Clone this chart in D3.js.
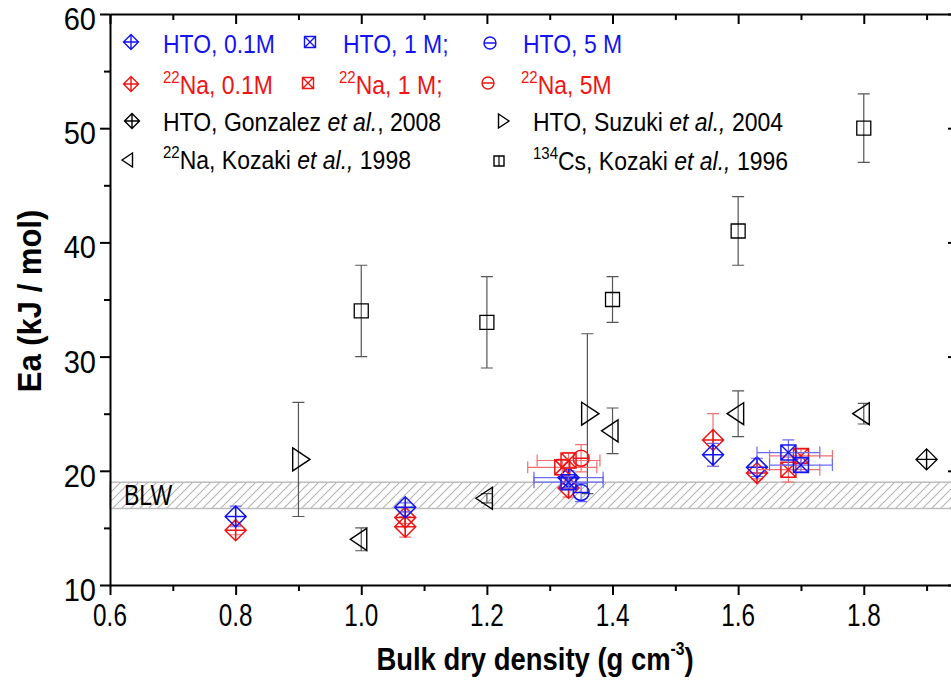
<!DOCTYPE html>
<html>
<head>
<meta charset="utf-8">
<script src="https://cdn.jsdelivr.net/npm/d3@7/dist/d3.min.js"></script>
<style>
  html, body { margin: 0; padding: 0; background: #fff; overflow: hidden; }
  svg { display: block; }
  text { font-family: "Liberation Sans", Arial, sans-serif; }
</style>
</head>
<body>
<svg id="chart" width="951" height="682"></svg>
<script>
// ---- data: [x (g cm-3), Ea (kJ/mol), yErr, xErr] ----
const hto01   = [[0.80,16.0,0.9,0],[1.07,16.8,0.4,0],[1.33,19.4,0.6,0.055],[1.56,21.4,1.0,0],[1.63,20.3,0.8,0]];
const hto1    = [[1.33,19.0,0.5,0.055],[1.68,21.6,1.1,0.05],[1.70,20.5,0.6,0.05]];
const hto5    = [[1.35,18.1,0.8,0]];
const na01    = [[0.80,14.8,0.4,0],[1.07,15.9,0.5,0],[1.07,15.1,0.9,0],[1.33,18.5,0.8,0],[1.56,22.7,2.3,0],[1.63,19.8,0.5,0]];
const na1     = [[1.32,20.3,0.7,0.055],[1.33,20.9,0.7,0.05],[1.68,20.1,1.1,0.05],[1.70,21.3,0.6,0.05]];
const na5     = [[1.35,21.1,1.2,0]];
const gonzalez= [[1.90,21.0,0,0]];
const suzuki  = [[0.90,21.0,5.0,0],[1.36,25.0,7.0,0]];
const kozakiNa= [[1.00,14.0,1.0,0],[1.20,17.6,0.4,0],[1.40,23.5,2.0,0],[1.60,25.0,2.0,0],[1.80,25.0,0.9,0]];
const kozakiCs= [[1.00,34.0,4.0,0],[1.20,33.0,4.0,0],[1.40,35.0,2.0,0],[1.60,41.0,3.0,0],[1.80,50.0,3.0,0]];
const blwBand = [16.7, 19.0];
const xMajor = [0.6,0.8,1.0,1.2,1.4,1.6,1.8];
const xMinor = [0.7,0.9,1.1,1.3,1.5,1.7,1.9];
const yMajor = [10,20,30,40,50,60];
const yMinor = [15,25,35,45,55];

const BLUE = "#1414f0", RED = "#f01414", BLACK = "#000";
const BLUE_E = "#6b6bf2", RED_E = "#f07070", BLACK_E = "#555";

const svg = d3.select("#chart");
svg.append("rect").attr("width",951).attr("height",682).attr("fill","#fff");

const L = 110, R = 958, T = 14, B = 585;
const x = d3.scaleLinear().domain([0.6, 1.95]).range([L, R]);
const y = d3.scaleLinear().domain([10, 60]).range([B, T]);

// hatch pattern
const defs = svg.append("defs");
const pat = defs.append("pattern").attr("id","hatch").attr("patternUnits","userSpaceOnUse")
  .attr("width",9).attr("height",9);
pat.append("path").attr("d","M0,9 L9,0 M-2,2 L2,-2 M7,11 L11,7")
  .attr("stroke","#b4b4b4").attr("stroke-width",1.1);

// BLW band
svg.append("rect")
  .attr("x", x(0.6)).attr("y", y(blwBand[1]))
  .attr("width", x(1.95) - x(0.6)).attr("height", y(blwBand[0]) - y(blwBand[1]))
  .attr("fill","url(#hatch)").attr("stroke","#bdbdbd").attr("stroke-width",1.5);

function stext(parent, tx, ty, sx, sy, opts) {
  const g = parent.append("g").attr("transform", `translate(${tx},${ty}) scale(${sx},${sy})`);
  const t = g.append("text").attr("x",0).attr("y",0);
  Object.entries(opts.attrs || {}).forEach(([k,v]) => t.attr(k,v));
  return t;
}

stext(svg, 124, 505, 1, 1.28, {attrs:{"font-size":23, fill:"#000"}}).text("BLW");

// ---- axes ----
function styleAxis(g) {
  g.select(".domain").attr("stroke","#000").attr("stroke-width",2);
  g.selectAll(".tick line").attr("stroke","#000").attr("stroke-width",2);
}
const gxB = svg.append("g").attr("transform",`translate(0,${B})`)
  .call(d3.axisBottom(x).tickValues(xMajor).tickSize(10).tickFormat("").tickSizeOuter(0));
styleAxis(gxB);
const gxBm = svg.append("g").attr("transform",`translate(0,${B})`)
  .call(d3.axisBottom(x).tickValues(xMinor).tickSize(6).tickFormat("").tickSizeOuter(0));
styleAxis(gxBm); gxBm.select(".domain").remove();

const gxT = svg.append("g").attr("transform",`translate(0,${T})`)
  .call(d3.axisTop(x).tickValues(xMajor).tickSize(-10).tickFormat("").tickSizeOuter(0));
styleAxis(gxT);
const gxTm = svg.append("g").attr("transform",`translate(0,${T})`)
  .call(d3.axisTop(x).tickValues(xMinor).tickSize(-6).tickFormat("").tickSizeOuter(0));
styleAxis(gxTm); gxTm.select(".domain").remove();

const gyL = svg.append("g").attr("transform",`translate(${L},0)`)
  .call(d3.axisLeft(y).tickValues(yMajor).tickSize(10).tickFormat("").tickSizeOuter(0));
styleAxis(gyL);
const gyLm = svg.append("g").attr("transform",`translate(${L},0)`)
  .call(d3.axisLeft(y).tickValues(yMinor).tickSize(6).tickFormat("").tickSizeOuter(0));
styleAxis(gyLm); gyLm.select(".domain").remove();

const gyR = svg.append("g").attr("transform",`translate(${R},0)`)
  .call(d3.axisRight(y).tickValues(yMajor).tickSize(-10).tickFormat("").tickSizeOuter(0));
styleAxis(gyR);

// tick labels
const fmt = d3.format(".1f");
xMajor.forEach(v => {
  stext(svg, x(v), 626, 0.9, 1.15, {attrs:{"font-size":27,"text-anchor":"middle",fill:"#000"}}).text(fmt(v));
});
yMajor.forEach(v => {
  stext(svg, 96, y(v) + 16, 1, 1.05, {attrs:{"font-size":29,"text-anchor":"end",fill:"#000"}}).text(v);
});

// axis titles
const xt = stext(svg, 535, 670, 0.98, 1.12, {attrs:{"font-size":28,"font-weight":"bold","text-anchor":"middle",fill:"#000"}});
xt.append("tspan").text("Bulk dry density (g cm");
xt.append("tspan").attr("font-size",16).attr("dy",-13).text("-3");
xt.append("tspan").attr("dy",13).text(")");

const yg = svg.append("g").attr("transform","translate(41,301) rotate(-90) scale(1,1.08)");
yg.append("text").attr("text-anchor","middle").attr("font-size",31).attr("font-weight","bold")
  .attr("fill","#000").text("Ea (kJ / mol)");

// ---- marker paths ----
function markerPath(type, cx, cy, s) {
  switch(type) {
    case "diamondPlus":
      return `M${cx-s},${cy}L${cx},${cy-s}L${cx+s},${cy}L${cx},${cy+s}Z M${cx-s},${cy}H${cx+s} M${cx},${cy-s}V${cy+s}`;
    case "squareX":
      return `M${cx-s},${cy-s}H${cx+s}V${cy+s}H${cx-s}Z M${cx-s},${cy-s}L${cx+s},${cy+s} M${cx+s},${cy-s}L${cx-s},${cy+s}`;
    case "circleMinus":
      return `M${cx-s},${cy}A${s},${s} 0 1,0 ${cx+s},${cy}A${s},${s} 0 1,0 ${cx-s},${cy}Z M${cx-s},${cy}H${cx+s}`;
    case "square":
      return `M${cx-s},${cy-s}H${cx+s}V${cy+s}H${cx-s}Z`;
    case "triLeft": {
      const a = s*0.5, b = s;
      return `M${cx-2*a},${cy}L${cx+a},${cy-b}L${cx+a},${cy+b}Z`;
    }
    case "triRight": {
      const a = s*0.5, b = s;
      return `M${cx+2*a},${cy}L${cx-a},${cy-b}L${cx-a},${cy+b}Z`;
    }
  }
}

function drawSeries(data, type, size, color, ecolor, sw) {
  const g = svg.append("g");
  const cap = 6;
  g.selectAll("path.ey").data(data.filter(d => d[2] > 0)).join("path")
    .attr("d", d => {
      const cx = x(d[0]), y0 = y(d[1]-d[2]), y1 = y(d[1]+d[2]);
      return `M${cx},${y0}V${y1} M${cx-cap},${y0}H${cx+cap} M${cx-cap},${y1}H${cx+cap}`;
    })
    .attr("fill","none").attr("stroke", ecolor).attr("stroke-width",1.2);
  g.selectAll("path.ex").data(data.filter(d => d[3] > 0)).join("path")
    .attr("d", d => {
      const cy = y(d[1]), x0 = x(d[0]-d[3]), x1 = x(d[0]+d[3]);
      return `M${x0},${cy}H${x1} M${x0},${cy-cap}V${cy+cap} M${x1},${cy-cap}V${cy+cap}`;
    })
    .attr("fill","none").attr("stroke", ecolor).attr("stroke-width",1.2);
  g.selectAll("path.mk").data(data).join("path")
    .attr("d", d => markerPath(type, x(d[0]), y(d[1]), size))
    .attr("fill","none").attr("stroke", color).attr("stroke-width", sw);
}

drawSeries(kozakiCs, "square", 7, BLACK, BLACK_E, 1.3);
drawSeries(kozakiNa, "triLeft", 11, BLACK, BLACK_E, 1.4);
drawSeries(suzuki, "triRight", 11.5, BLACK, BLACK_E, 1.4);
drawSeries(gonzalez, "diamondPlus", 10.5, BLACK, BLACK_E, 1.4);
drawSeries(na01, "diamondPlus", 10.5, RED, RED_E, 1.5);
drawSeries(hto01, "diamondPlus", 10.5, BLUE, BLUE_E, 1.5);
drawSeries(na1, "squareX", 7.5, RED, RED_E, 1.5);
drawSeries(hto1, "squareX", 7.5, BLUE, BLUE_E, 1.5);
drawSeries(na5, "circleMinus", 8, RED, RED_E, 1.5);
drawSeries(hto5, "circleMinus", 8, BLUE, BLUE_E, 1.5);

// ---- legend ----
const legend = [
  {type:"diamondPlus", s:7.5, mx:131, my:42, color:BLUE, tx:163, ty:53, parts:[["HTO, 0.1M"]]},
  {type:"squareX", s:5.5, mx:310, my:42, color:BLUE, tx:343, ty:53, parts:[["HTO, 1 M;"]]},
  {type:"circleMinus", s:6, mx:490, my:43, color:BLUE, tx:523, ty:53, parts:[["HTO, 5 M"]]},
  {type:"diamondPlus", s:7.5, mx:131, my:84, color:RED, tx:163, ty:94, parts:[["22","sup"],["Na, 0.1M"]]},
  {type:"squareX", s:5.5, mx:308, my:83, color:RED, tx:339, ty:94, parts:[["22","sup"],["Na, 1 M;"]]},
  {type:"circleMinus", s:6, mx:488, my:83, color:RED, tx:521, ty:94, parts:[["22","sup"],["Na, 5M"]]},
  {type:"diamondPlus", s:7.5, mx:132, my:121, color:BLACK, tx:163, ty:131, parts:[["HTO, Gonzalez "],["et al.","it"],[", 2008"]]},
  {type:"triRight", s:7, mx:502, my:121, color:BLACK, tx:533, ty:131, parts:[["HTO, Suzuki "],["et al.,","it"],[" 2004"]]},
  {type:"triLeft", s:7, mx:129, my:160, color:BLACK, tx:163, ty:169, parts:[["22","sup"],["Na, Kozaki "],["et al.,","it"],[" 1998"]]},
  {type:"square", s:5, mx:499, my:161, color:BLACK, tx:533, ty:170, parts:[["134","sup"],["Cs, Kozaki "],["et al.,","it"],[" 1996"]], bar:true}
];
const lg = svg.append("g");
legend.forEach(it => {
  lg.append("path").attr("d", markerPath(it.type, it.mx, it.my, it.s))
    .attr("fill","none").attr("stroke", it.color).attr("stroke-width",1.4);
  if (it.bar) {
    lg.append("path").attr("d", `M${it.mx},${it.my-it.s}V${it.my+it.s}`).attr("stroke",it.color).attr("stroke-width",1.2);
  }
  const t = stext(lg, it.tx, it.ty, 1, 1.12, {attrs:{"font-size":23, fill: it.color}});
  let raised = false;
  it.parts.forEach(p => {
    const ts = t.append("tspan").text(p[0]);
    if (p[1] === "sup") { ts.attr("font-size",15).attr("dy",-10); raised = true; }
    else {
      if (raised) { ts.attr("dy",10); raised = false; }
      if (p[1] === "it") ts.attr("font-style","italic");
    }
  });
});
</script>
</body>
</html>
